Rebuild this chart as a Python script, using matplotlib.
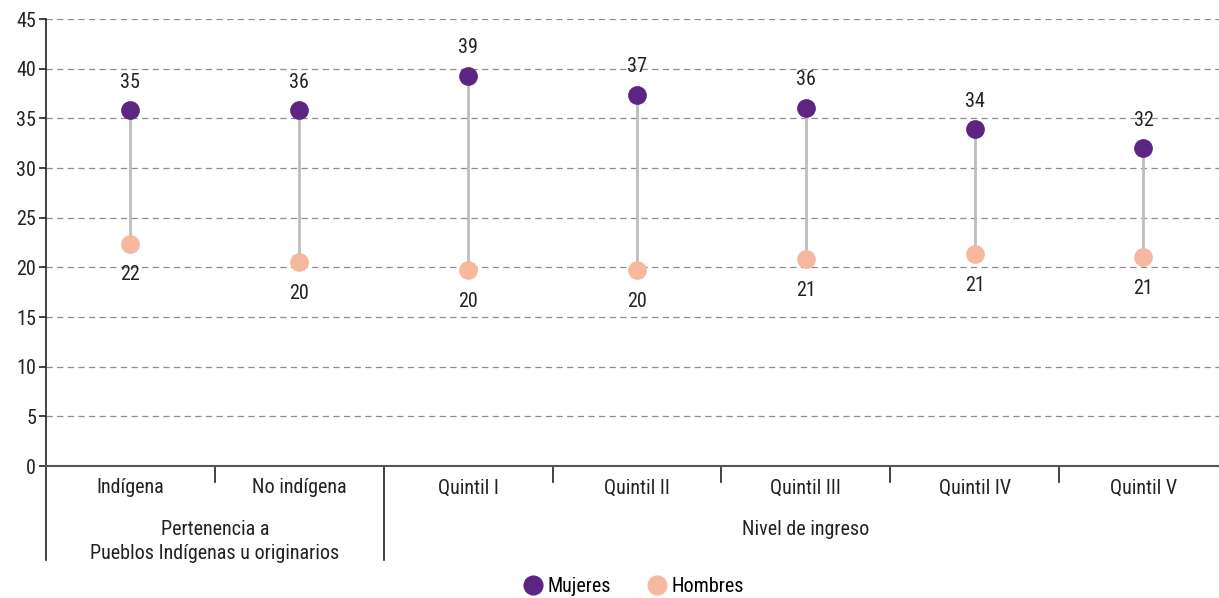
import matplotlib.pyplot as plt
from matplotlib.lines import Line2D
import numpy as np

plt.rcParams['font.family'] = ['Roboto Condensed', 'Liberation Sans Narrow', 'Roboto', 'DejaVu Sans']

# Datos
categorias = ['Indígena', 'No indígena', 'Quintil I', 'Quintil II', 'Quintil III', 'Quintil IV', 'Quintil V']
mujeres = [35.8, 35.8, 39.3, 37.4, 36.1, 33.9, 32.0]
hombres = [22.4, 20.5, 19.7, 19.7, 20.8, 21.3, 21.0]
etiquetas_mujeres = ['35', '36', '39', '37', '36', '34', '32']
etiquetas_hombres = ['22', '20', '20', '20', '21', '21', '21']
grupos = ['Pertenencia a\nPueblos Indígenas u originarios', 'Nivel de ingreso']
grupo_rango = [(0, 1), (2, 6)]

color_m = '#5c2483'
color_h = '#f7b8a0'
fs = 14.5

fig = plt.figure(figsize=(12.19, 5.98), dpi=100)
# el eje llega un poco mas alla del borde derecho, como en el original
ax = fig.add_axes([0.0377, 0.2207, 0.9696, 0.7473])

x = np.arange(len(categorias))

# Lineas de conexion
ax.vlines(x, hombres, mujeres, color='#bdbdbd', linewidth=2, zorder=2)
ax.plot(x, mujeres, 'o', color=color_m, markersize=13.5, markeredgewidth=0, zorder=3)
ax.plot(x, hombres, 'o', color=color_h, markersize=13.5, markeredgewidth=0, zorder=3)

for xi, v, t in zip(x, mujeres, etiquetas_mujeres):
    ax.annotate(t, (xi, v), xytext=(0, 20), textcoords='offset points',
                ha='center', va='center', fontsize=fs, color='#222222')
for xi, v, t in zip(x, hombres, etiquetas_hombres):
    ax.annotate(t, (xi, v), xytext=(0, -22.5), textcoords='offset points',
                ha='center', va='center', fontsize=fs, color='#222222')

ax.set_xlim(-0.5, len(categorias) - 0.5)
ax.set_ylim(0, 45)
ax.set_yticks(np.arange(0, 46, 5))
ax.tick_params(axis='y', length=5, width=1.2, labelsize=fs, pad=2, colors='#222222')
ax.set_xticks([])

for y in np.arange(5, 46, 5):
    ax.axhline(y, color='#8c8c8c', linewidth=0.9, linestyle=(0, (5, 3.5)), zorder=1)

for s in ['top', 'right']:
    ax.spines[s].set_visible(False)
ax.spines['left'].set_color('#222222')
ax.spines['left'].set_linewidth(1.2)
ax.spines['bottom'].set_color('#555555')
ax.spines['bottom'].set_linewidth(1.5)

# Eje de categorias
trans = ax.get_xaxis_transform()
for i, c in enumerate(categorias):
    ax.text(i, -0.049, c, transform=trans, ha='center', va='center', fontsize=fs, color='#222222')

bordes_largos = [-0.5, 1.5]
bordes_cortos = [0.5, 2.5, 3.5, 4.5, 5.5]
for b in bordes_largos:
    ax.plot([b, b], [0, -0.21], transform=trans, color='#222222', linewidth=1.2, clip_on=False)
for b in bordes_cortos:
    ax.plot([b, b], [0, -0.036], transform=trans, color='#222222', linewidth=1.2, clip_on=False)

for g, (a, b) in zip(grupos, grupo_rango):
    ax.text((a + b) / 2, -0.121, g, transform=trans, ha='center', va='top',
            fontsize=fs, color='#222222', linespacing=1.3)

handles = [Line2D([], [], marker='o', linestyle='', color=color_m, markersize=13.5, label='Mujeres'),
           Line2D([], [], marker='o', linestyle='', color=color_h, markersize=13.5, label='Hombres')]
ax.legend(handles=handles, loc='lower center', bbox_to_anchor=(0.497, -0.332), bbox_transform=ax.transAxes,
          ncol=2, frameon=False, fontsize=fs, handlelength=1.0, handletextpad=0.2, columnspacing=1.8)

fig.savefig('out.png', dpi=100)
